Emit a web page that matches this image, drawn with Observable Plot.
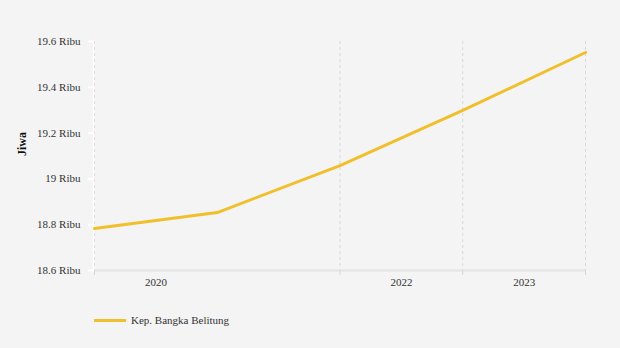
<!DOCTYPE html>
<html><head><meta charset="utf-8">
<script src="https://cdn.jsdelivr.net/npm/d3@7"></script>
<script src="https://cdn.jsdelivr.net/npm/@observablehq/plot@0.6"></script>
<style>
body{margin:0;background:#f4f4f4;}
#chart{width:620px;height:348px;position:relative;background:#f4f4f4;font-family:"Liberation Serif","Times New Roman",serif;}
.legend{position:absolute;left:94px;top:314px;display:flex;align-items:center;font-size:11px;color:#333}
.swatch{width:32px;height:3px;background:#f0bf2b;margin-right:5px}
</style></head><body><div id="chart"></div>
<script>
const seriesName = "Kep. Bangka Belitung";
const xIndex = [0, 1, 2, 3, 4];
const values = [18.783, 18.853, 19.058, 19.299, 19.552];
const yTicks = [18.6, 18.8, 19, 19.2, 19.4, 19.6];
const yTickLabels = ["18.6 Ribu", "18.8 Ribu", "19 Ribu", "19.2 Ribu", "19.4 Ribu", "19.6 Ribu"];
const xGrid = [0, 2, 3, 4];
const xLabelPos = [0.5, 2.5, 3.5];
const xLabels = ["2020", "2022", "2023"];
const yTitle = "Jiwa";

const data = xIndex.map((x, i) => ({x, y: values[i]}));
const color = "#f0bf2b";

const plot = Plot.plot({
  width: 620, height: 300,
  marginLeft: 94, marginRight: 35, marginTop: 41, marginBottom: 30,
  style: {background: "#f4f4f4", fontFamily: '"Liberation Serif","Times New Roman",serif', fontSize: "11px", color: "#333"},
  x: {domain: [0, 4], axis: null, label: null},
  y: {domain: [18.6, 19.6], axis: null, label: null},
  marks: [
    Plot.ruleX(xGrid, {x: d => d, stroke: "#d6d6d6", strokeDasharray: "3,3", strokeWidth: 1}),
    Plot.ruleX([0], {x: d => d, stroke: "#ffffff", strokeWidth: 1.5, dx: -1}),
    Plot.ruleY([18.6], {y: d => d, stroke: "#e4e4e4", strokeWidth: 2}),
    Plot.axisX({ticks: xGrid, tickFormat: () => "", tickSize: 5, stroke: "#d6d6d6", label: null}),
    Plot.axisX({ticks: xLabelPos, tickSize: 0, tickPadding: 8, label: null, tickFormat: d => xLabels[xLabelPos.indexOf(d)], fill: "#333", fontSize: 11}),
    Plot.axisY({ticks: yTicks, tickSize: 6, tickPadding: 8, stroke: "#ffffff", strokeWidth: 2, fill: "#333", fontSize: 11, label: null,
      tickFormat: d => yTickLabels[yTicks.indexOf(d)]}),
    Plot.text([yTitle], {frameAnchor: "left", dx: -72, rotate: -90, fontWeight: "bold", fontSize: 12, fill: "#111"}),
    Plot.line(data, {x: "x", y: "y", stroke: color, strokeWidth: 3, curve: "linear"})
  ]
});
const chart = document.getElementById("chart");
chart.appendChild(plot);
const leg = document.createElement("div");
leg.className = "legend";
leg.innerHTML = `<div class="swatch"></div><span>${seriesName}</span>`;
chart.appendChild(leg);
</script></body></html>
